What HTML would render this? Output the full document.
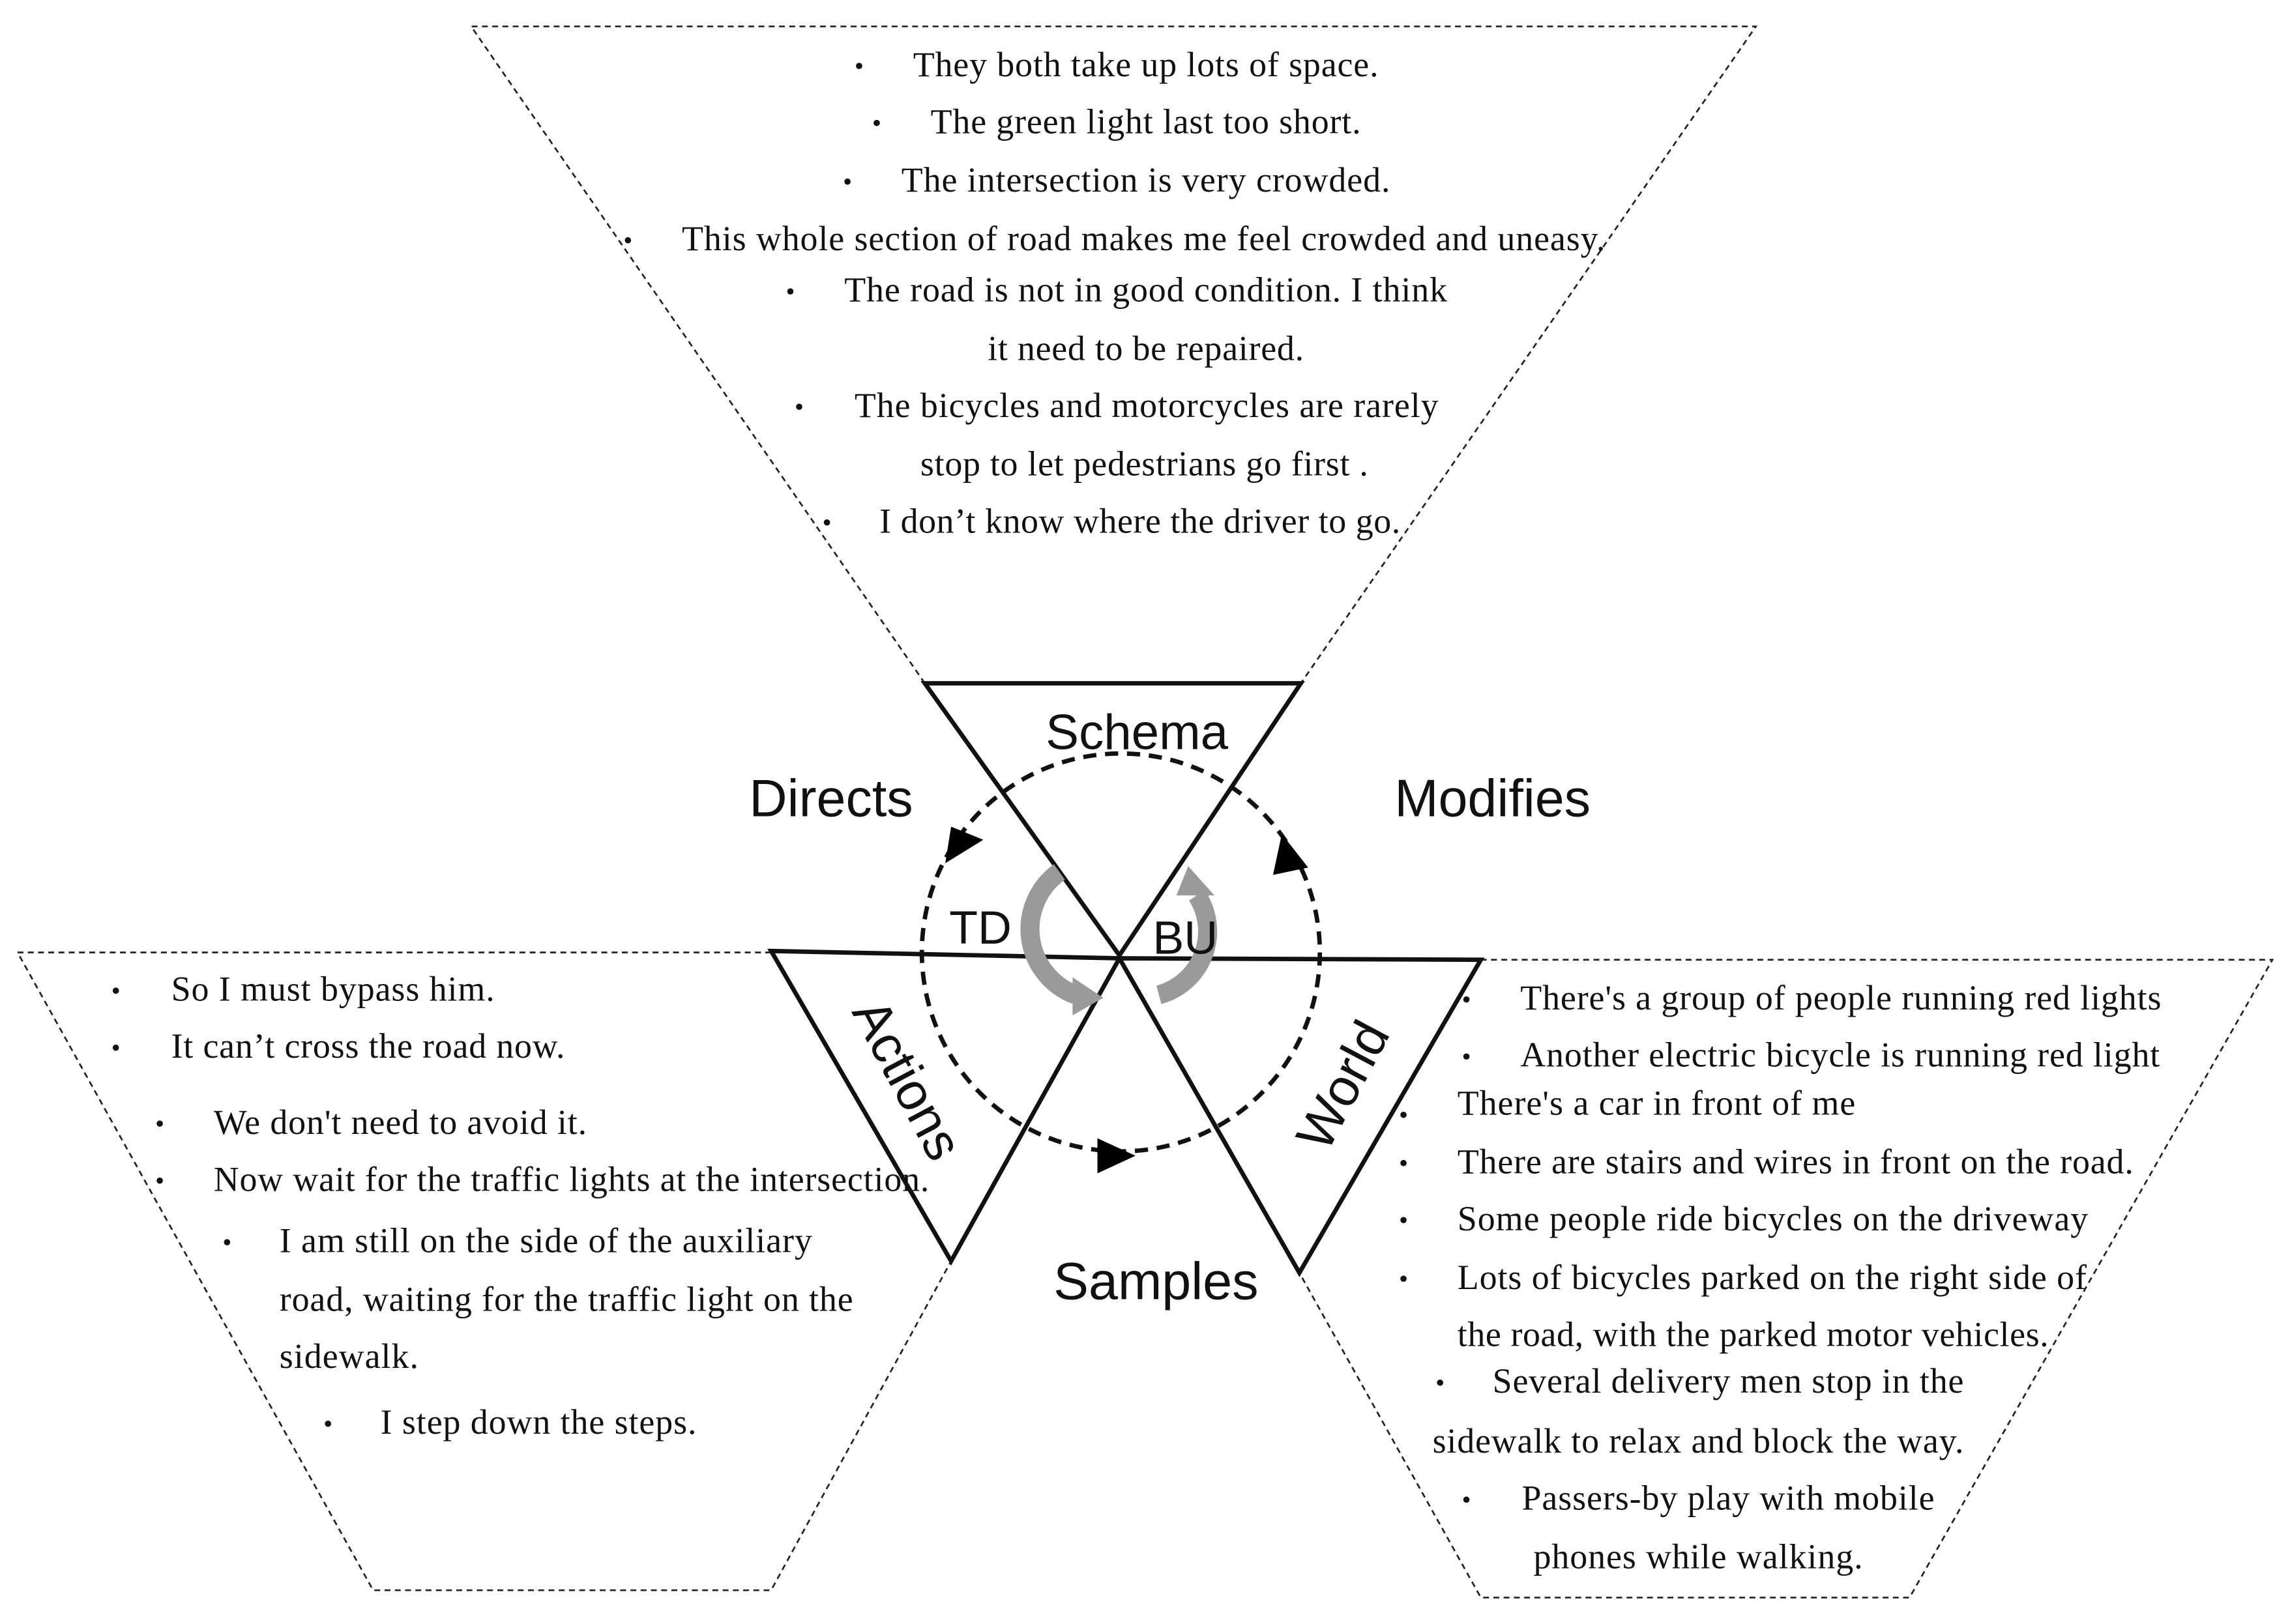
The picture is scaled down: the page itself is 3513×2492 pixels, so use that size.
<!DOCTYPE html>
<html><head><meta charset="utf-8"><style>
html,body{margin:0;padding:0;background:#fff;}
svg{display:block;}
.t{font-family:"Liberation Serif",serif;font-size:24px;fill:#111;}
.b{font-family:"Liberation Serif",serif;font-size:18px;fill:#111;}
.s{font-family:"Liberation Sans",sans-serif;fill:#111;}
</style></head><body>
<svg width="3513" height="2492" viewBox="0 0 1565 1110" xmlns="http://www.w3.org/2000/svg">
<rect width="1565" height="1110" fill="#fff"/>
<g fill="none" stroke="#222" stroke-width="1.2" stroke-dasharray="4,3">
<polyline points="632,467 322,18 1200,18 889,467"/>
<polyline points="527,651 12,651 255,1087 527,1087 650,862"/>
<polyline points="1012,656 1553,656 1305,1092 1012,1092 888,870"/>
</g>
<g fill="none" stroke="#111" stroke-width="3">
<polygon points="632,467 889,467 765,653"/>
<polygon points="527,650 765,655 650,862"/>
<polygon points="765,655 1012,656 888,870"/>
</g>
<circle cx="766" cy="651" r="136" fill="none" stroke="#111" stroke-width="3" stroke-dasharray="9,6"/>
<polygon points="646,590 672,574 650,565" fill="#000"/>
<polygon points="870,598 894,593 876,570" fill="#000"/>
<polygon points="750,778 750,802 776,790" fill="#000"/>
<g fill="none" stroke="#9a9a9a" stroke-width="13">
<path d="M724,596 A48,48 0 0 0 735,680"/>
<path d="M792,680 A45,45 0 0 0 818,612"/>
</g>
<polygon points="733,668 733,694 754,682" fill="#9a9a9a"/>
<polygon points="804,612 830,612 812,592" fill="#9a9a9a"/>
<text class="s" x="777" y="512" font-size="34" text-anchor="middle">Schema</text>
<text class="s" x="568" y="558" font-size="36" text-anchor="middle">Directs</text>
<text class="s" x="1020" y="558" font-size="36" text-anchor="middle">Modifies</text>
<text class="s" x="790" y="888" font-size="36" text-anchor="middle">Samples</text>
<text class="s" x="670" y="645" font-size="32" text-anchor="middle">TD</text>
<text class="s" x="810" y="652" font-size="32" text-anchor="middle">BU</text>
<text class="s" x="620" y="750" font-size="36" text-anchor="middle" transform="rotate(62 620 738)">Actions</text>
<text class="s" x="918" y="754" font-size="36" text-anchor="middle" transform="rotate(-62 918 742)">World</text>
<g class="b">
<text x="584" y="51">•</text><text x="596" y="90">•</text><text x="576" y="130">•</text><text x="426" y="170">•</text><text x="537" y="205">•</text><text x="543" y="284">•</text><text x="562" y="363">•</text>
<text x="76" y="683">•</text><text x="76" y="722">•</text><text x="106" y="774">•</text><text x="106" y="813">•</text><text x="152" y="855">•</text><text x="221" y="979">•</text>
<text x="999" y="689">•</text><text x="999" y="728">•</text><text x="956" y="768">•</text><text x="956" y="801">•</text><text x="956" y="840">•</text><text x="956" y="880">•</text><text x="981" y="951">•</text><text x="999" y="1031">•</text>
</g>
<g class="t">
<text x="624" y="52" textLength="318">They both take up lots of space.</text>
<text x="636" y="91" textLength="294">The green light last too short.</text>
<text x="616" y="131" textLength="334">The intersection is very crowded.</text>
<text x="466" y="171" textLength="631">This whole section of road makes me feel crowded and uneasy.</text>
<text x="577" y="206" textLength="412">The road is not in good condition. I think</text>
<text x="675" y="246" textLength="216">it need to be repaired.</text>
<text x="584" y="285" textLength="399">The bicycles and motorcycles are rarely</text>
<text x="629" y="325" textLength="306">stop to let pedestrians go first .</text>
<text x="601" y="364" textLength="356">I don’t know where the driver to go.</text>
<text x="117" y="684" textLength="221">So I must bypass him.</text>
<text x="117" y="723" textLength="269">It can’t cross the road now.</text>
<text x="146" y="775" textLength="255">We don't need to avoid it.</text>
<text x="146" y="814" textLength="489">Now wait for the traffic lights at the intersection.</text>
<text x="191" y="856" textLength="364">I am still on the side of the auxiliary</text>
<text x="191" y="896" textLength="392">road, waiting for the traffic light on the</text>
<text x="191" y="935" textLength="95">sidewalk.</text>
<text x="260" y="980" textLength="216">I step down the steps.</text>
<text x="1039" y="690" textLength="438">There's a group of people running red lights</text>
<text x="1039" y="729" textLength="437">Another electric bicycle is running red light</text>
<text x="996" y="762" textLength="272">There's a car in front of me</text>
<text x="996" y="802" textLength="462">There are stairs and wires in front on the road.</text>
<text x="996" y="841" textLength="431">Some people ride bicycles on the driveway</text>
<text x="996" y="881" textLength="430">Lots of bicycles parked on the right side of</text>
<text x="996" y="920" textLength="404">the road, with the parked motor vehicles.</text>
<text x="1020" y="952" textLength="322">Several delivery men stop in the</text>
<text x="979" y="993" textLength="363">sidewalk to relax and block the way.</text>
<text x="1040" y="1032" textLength="282">Passers-by play with mobile</text>
<text x="1048" y="1072" textLength="225">phones while walking.</text>
</g>
</svg>
</body></html>
